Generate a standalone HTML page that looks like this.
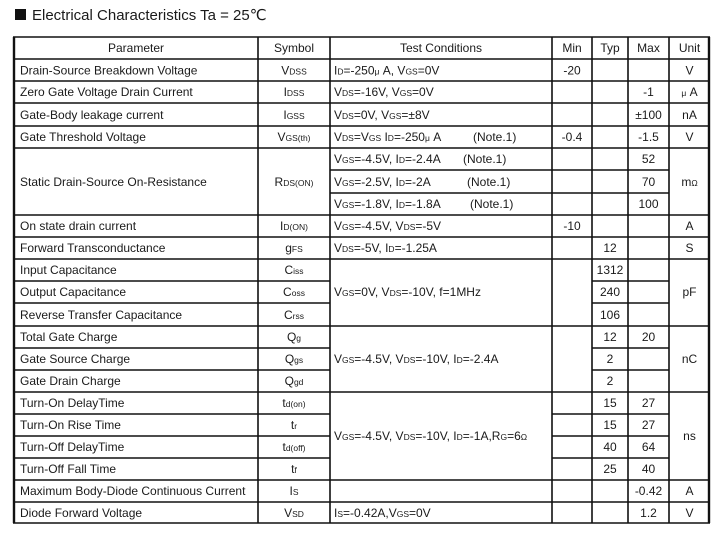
<!DOCTYPE html>
<html><head><meta charset="utf-8"><style>
html,body{margin:0;padding:0;background:#fff;width:720px;height:533px;overflow:hidden}
svg{display:block}
text{font-family:"Liberation Sans","DejaVu Sans",sans-serif;font-size:12px;fill:#1a1a1a}
.c{text-anchor:middle}
.s{font-size:8.5px}
</style></head><body>
<svg width="720" height="533" viewBox="0 0 720 533">
<rect x="15" y="9" width="11" height="11" fill="#111"/>
<text x="32" y="20" style="font-size:15px">Electrical Characteristics Ta = 25℃</text>
<g stroke="#111" stroke-width="1.6" fill="none">
<!-- full horizontal lines -->
<path d="M13 37H710M13 59H710M13 81H710M13 103H710M13 126H710M13 148H710M13 215H710M13 237H710M13 259H710M13 326H710M13 392H710M13 480H710M13 502H710M13 523H710"/>
<!-- partial -->
<path d="M330 170H669M330 193H669"/>
<path d="M13 281H330M592 281H669M13 303H330M592 303H669"/>
<path d="M13 348H330M592 348H669M13 370H330M592 370H669"/>
<path d="M13 414H330M552 414H669M13 436H330M552 436H669M13 458H330M552 458H669"/>
<!-- verticals -->
<path d="M258 37V523M330 37V523M552 37V523M592 37V523M628 37V523M669 37V523"/>
<path d="M14 37V523M709 37V523" stroke-width="2.4"/>
</g>
<!-- header -->
<text class="c" x="136" y="52">Parameter</text>
<text class="c" x="294" y="52">Symbol</text>
<text class="c" x="441" y="52">Test Conditions</text>
<text class="c" x="572" y="52">Min</text>
<text class="c" x="610" y="52">Typ</text>
<text class="c" x="648.5" y="52">Max</text>
<text class="c" x="689.5" y="52">Unit</text>
<!-- params -->
<g>
<text x="20" y="74.5">Drain-Source Breakdown Voltage</text>
<text x="20" y="96">Zero Gate Voltage Drain Current</text>
<text x="20" y="119">Gate-Body leakage current</text>
<text x="20" y="141">Gate Threshold Voltage</text>
<text x="20" y="186">Static Drain-Source On-Resistance</text>
<text x="20" y="230">On state drain current</text>
<text x="20" y="252">Forward Transconductance</text>
<text x="20" y="274">Input Capacitance</text>
<text x="20" y="296">Output Capacitance</text>
<text x="20" y="319">Reverse Transfer Capacitance</text>
<text x="20" y="341">Total Gate Charge</text>
<text x="20" y="363">Gate Source Charge</text>
<text x="20" y="385">Gate Drain Charge</text>
<text x="20" y="407">Turn-On DelayTime</text>
<text x="20" y="429">Turn-On Rise Time</text>
<text x="20" y="451">Turn-Off DelayTime</text>
<text x="20" y="473">Turn-Off Fall Time</text>
<text x="20" y="495">Maximum Body-Diode Continuous Current</text>
<text x="20" y="517">Diode Forward Voltage</text>
</g>
<!-- symbols -->
<g class="c">
<text class="c" x="294" y="74.5">V<tspan class="s">DSS</tspan></text>
<text class="c" x="294" y="96">I<tspan class="s">DSS</tspan></text>
<text class="c" x="294" y="119">I<tspan class="s">GSS</tspan></text>
<text class="c" x="294" y="141">V<tspan class="s">GS(th)</tspan></text>
<text class="c" x="294" y="186">R<tspan class="s">DS(ON)</tspan></text>
<text class="c" x="294" y="230">I<tspan class="s">D(ON)</tspan></text>
<text class="c" x="294" y="252">g<tspan class="s">FS</tspan></text>
<text class="c" x="294" y="274">C<tspan class="s">iss</tspan></text>
<text class="c" x="294" y="296">C<tspan class="s">oss</tspan></text>
<text class="c" x="294" y="319">C<tspan class="s">rss</tspan></text>
<text class="c" x="294" y="341">Q<tspan class="s">g</tspan></text>
<text class="c" x="294" y="363">Q<tspan class="s">gs</tspan></text>
<text class="c" x="294" y="385">Q<tspan class="s">gd</tspan></text>
<text class="c" x="294" y="407">t<tspan class="s">d(on)</tspan></text>
<text class="c" x="294" y="429">t<tspan class="s">r</tspan></text>
<text class="c" x="294" y="451">t<tspan class="s">d(off)</tspan></text>
<text class="c" x="294" y="473">t<tspan class="s">f</tspan></text>
<text class="c" x="294" y="495">I<tspan class="s">S</tspan></text>
<text class="c" x="294" y="517">V<tspan class="s">SD</tspan></text>
</g>
<!-- conditions -->
<text x="334" y="74.5">I<tspan class="s">D</tspan>=-250<tspan class="s">μ</tspan> A, V<tspan class="s">GS</tspan>=0V</text>
<text x="334" y="96">V<tspan class="s">DS</tspan>=-16V, V<tspan class="s">GS</tspan>=0V</text>
<text x="334" y="119">V<tspan class="s">DS</tspan>=0V, V<tspan class="s">GS</tspan>=±8V</text>
<text x="334" y="141">V<tspan class="s">DS</tspan>=V<tspan class="s">GS</tspan> I<tspan class="s">D</tspan>=-250<tspan class="s">μ</tspan> A</text><text x="473" y="141">(Note.1)</text>
<text x="334" y="163">V<tspan class="s">GS</tspan>=-4.5V, I<tspan class="s">D</tspan>=-2.4A</text><text x="463" y="163">(Note.1)</text>
<text x="334" y="186">V<tspan class="s">GS</tspan>=-2.5V, I<tspan class="s">D</tspan>=-2A</text><text x="467" y="186">(Note.1)</text>
<text x="334" y="208">V<tspan class="s">GS</tspan>=-1.8V, I<tspan class="s">D</tspan>=-1.8A</text><text x="470" y="208">(Note.1)</text>
<text x="334" y="230">V<tspan class="s">GS</tspan>=-4.5V, V<tspan class="s">DS</tspan>=-5V</text>
<text x="334" y="252">V<tspan class="s">DS</tspan>=-5V, I<tspan class="s">D</tspan>=-1.25A</text>
<text x="334" y="296">V<tspan class="s">GS</tspan>=0V, V<tspan class="s">DS</tspan>=-10V, f=1MHz</text>
<text x="334" y="363">V<tspan class="s">GS</tspan>=-4.5V, V<tspan class="s">DS</tspan>=-10V, I<tspan class="s">D</tspan>=-2.4A</text>
<text x="334" y="440">V<tspan class="s">GS</tspan>=-4.5V, V<tspan class="s">DS</tspan>=-10V, I<tspan class="s">D</tspan>=-1A,R<tspan class="s">G</tspan>=6<tspan class="s">Ω</tspan></text>
<text x="334" y="517">I<tspan class="s">S</tspan>=-0.42A,V<tspan class="s">GS</tspan>=0V</text>
<!-- min -->
<text class="c" x="572" y="74.5">-20</text>
<text class="c" x="572" y="141">-0.4</text>
<text class="c" x="572" y="230">-10</text>
<!-- typ -->
<text class="c" x="610" y="252">12</text>
<text class="c" x="610" y="274">1312</text>
<text class="c" x="610" y="296">240</text>
<text class="c" x="610" y="319">106</text>
<text class="c" x="610" y="341">12</text>
<text class="c" x="610" y="363">2</text>
<text class="c" x="610" y="385">2</text>
<text class="c" x="610" y="407">15</text>
<text class="c" x="610" y="429">15</text>
<text class="c" x="610" y="451">40</text>
<text class="c" x="610" y="473">25</text>
<!-- max -->
<text class="c" x="648.5" y="96">-1</text>
<text class="c" x="648.5" y="119">±100</text>
<text class="c" x="648.5" y="141">-1.5</text>
<text class="c" x="648.5" y="163">52</text>
<text class="c" x="648.5" y="186">70</text>
<text class="c" x="648.5" y="208">100</text>
<text class="c" x="648.5" y="341">20</text>
<text class="c" x="648.5" y="407">27</text>
<text class="c" x="648.5" y="429">27</text>
<text class="c" x="648.5" y="451">64</text>
<text class="c" x="648.5" y="473">40</text>
<text class="c" x="648.5" y="495">-0.42</text>
<text class="c" x="648.5" y="517">1.2</text>
<!-- unit -->
<text class="c" x="689.5" y="74.5">V</text>
<text class="c" x="689.5" y="96"><tspan class="s">μ</tspan> A</text>
<text class="c" x="689.5" y="119">nA</text>
<text class="c" x="689.5" y="141">V</text>
<text class="c" x="689.5" y="186">m<tspan class="s">Ω</tspan></text>
<text class="c" x="689.5" y="230">A</text>
<text class="c" x="689.5" y="252">S</text>
<text class="c" x="689.5" y="296">pF</text>
<text class="c" x="689.5" y="363">nC</text>
<text class="c" x="689.5" y="440">ns</text>
<text class="c" x="689.5" y="495">A</text>
<text class="c" x="689.5" y="517">V</text>
</svg>
</body></html>
